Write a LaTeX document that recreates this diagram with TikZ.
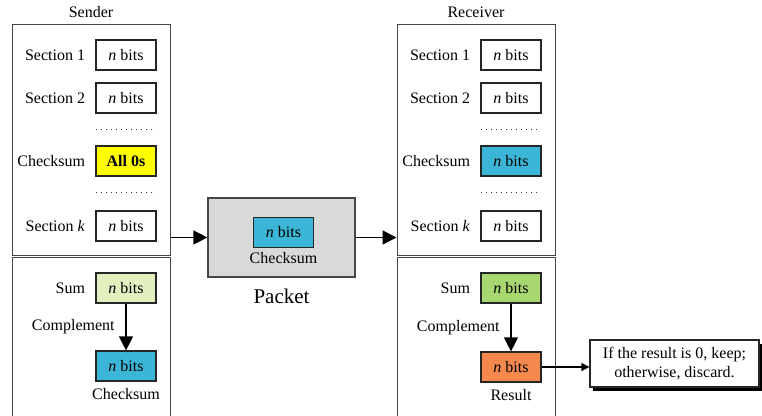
\documentclass[tikz,border=0pt]{standalone}
\usepackage{fontspec}
\setmainfont{Liberation Serif}
\usetikzlibrary{arrows.meta, positioning, shadows}

\definecolor{zeroyellow}{RGB}{255,255,0}
\definecolor{ckblue}{RGB}{60,182,214}
\definecolor{sumlight}{RGB}{226,240,192}
\definecolor{sumgreen}{RGB}{168,214,112}
\definecolor{resorange}{RGB}{245,136,76}
\definecolor{pktgray}{RGB}{217,217,217}
\definecolor{framegray}{RGB}{70,70,70}

\begin{document}
\begin{tikzpicture}[
  x=0.5pt, y=-0.5pt,
  every node/.style={font=\fontsize{8}{9.5}\selectfont},
  bitbox/.style={rectangle, draw=black!85, line width=0.6pt, minimum width=30pt, minimum height=15pt, inner sep=0pt},
  frame/.style={rectangle, draw=framegray, line width=0.5pt, minimum width=79pt, inner sep=0pt},
  lbl/.style={inner sep=1pt},
  bigarrow/.style={-{Triangle[length=7pt,width=7pt]}, line width=0.7pt},
  smallarrow/.style={-{Triangle[length=4pt,width=4pt]}, line width=0.6pt},
  dots/.style={dotted, line width=0.5pt, black!80}
]
\useasboundingbox (0,0) rectangle (762,416);

% sender
\node[frame, minimum height=115.5pt] (sendtop) at (91,140.5) {};
\node[above=0pt of sendtop] {Sender};
\node[bitbox] (s1) at (126,55) {\textit{n} bits};
\node[bitbox] (s2) at (126,98) {\textit{n} bits};
\node[bitbox, fill=zeroyellow] (sck) at (126,161) {\textbf{All 0s}};
\node[bitbox] (sk) at (126,226) {\textit{n} bits};
\node[lbl, left=4pt of s1] {Section 1};
\node[lbl, left=4pt of s2] {Section 2};
\node[lbl, left=4pt of sck] {Checksum};
\node[lbl, left=4pt of sk] {Section \textit{k}};
\draw[dots] (96,130) -- (156,130);
\draw[dots] (96,193) -- (156,193);

\draw[framegray, line width=0.5pt] (12,416) -- (12,258) -- (170,258) -- (170,416);
\node[bitbox, fill=sumlight] (ssum) at (126,288) {\textit{n} bits};
\node[bitbox, fill=ckblue] (sout) at (126,366) {\textit{n} bits};
\node[lbl, left=4pt of ssum] {Sum};
\node[lbl, below=2pt of sout] {Checksum};
\draw[bigarrow] (ssum) -- node[left=2pt] {Complement} (sout);

% packet
\node[rectangle, draw=framegray, fill=pktgray, line width=0.6pt, minimum width=73.5pt, minimum height=39.5pt] (pkt) at (281.5,237.5) {};
\node[bitbox, fill=ckblue] (pck) at (283.5,232.5) {\textit{n} bits};
\node[lbl, below=1pt of pck] {Checksum};
\node[below=2pt of pkt, font=\fontsize{10.5}{12}\selectfont] {Packet};

% receiver
\node[frame, minimum height=115.5pt] (rcvtop) at (476,140.5) {};
\node[above=0pt of rcvtop] {Receiver};
\node[bitbox] (r1) at (511,55) {\textit{n} bits};
\node[bitbox] (r2) at (511,98) {\textit{n} bits};
\node[bitbox, fill=ckblue] (rck) at (511,161) {\textit{n} bits};
\node[bitbox] (rk) at (511,226) {\textit{n} bits};
\node[lbl, left=4pt of r1] {Section 1};
\node[lbl, left=4pt of r2] {Section 2};
\node[lbl, left=4pt of rck] {Checksum};
\node[lbl, left=4pt of rk] {Section \textit{k}};
\draw[dots] (481,130) -- (541,130);
\draw[dots] (481,193) -- (541,193);

\draw[framegray, line width=0.5pt] (397,416) -- (397,258) -- (555,258) -- (555,416);
\node[bitbox, fill=sumgreen] (rsum) at (511,288) {\textit{n} bits};
\node[bitbox, fill=resorange] (rres) at (511,367) {\textit{n} bits};
\node[lbl, left=4pt of rsum] {Sum};
\node[lbl, below=2pt of rres] {Result};
\draw[bigarrow] (rsum) -- node[left=2pt] {Complement} (rres);

\node[rectangle, draw=black!85, fill=white, line width=0.6pt, align=center, minimum width=84.5pt, minimum height=23.5pt, inner sep=1pt,
  drop shadow={shadow xshift=1.5pt, shadow yshift=-1.8pt, fill=black, opacity=1}] (note) at (674.5,363.5)
  {If the result is 0, keep;\\otherwise, discard.};

\draw[bigarrow] (sendtop.east |- pkt.west) -- (pkt.west);
\draw[bigarrow] (pkt.east) -- (rcvtop.west |- pkt.east);
\draw[smallarrow] (rres.east) -- (note.west |- rres.east);
\end{tikzpicture}
\end{document}
